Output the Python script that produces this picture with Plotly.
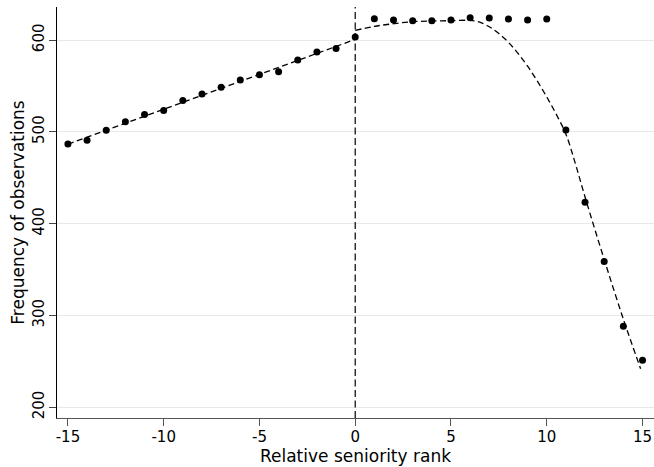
import plotly.graph_objects as go

# Observed frequency by relative seniority rank
rank = list(range(-15, 16))
freq = [486.9, 490.9, 501.8, 510.9, 518.8, 523.2, 534.1, 541.1, 548.7, 556.4,
        562.1, 565.4, 578.2, 586.9, 590.8, 603.3,
        623.2, 621.8, 621.1, 621.1, 621.8, 624.3, 624.0, 622.9, 621.8, 622.9,
        502.1, 423.3, 358.9, 288.3, 251.2]

# Fitted values, left of the cutoff (linear)
fit_left_x = [-15, 0]
fit_left_y = [486.5, 600.7]

# Fitted values, right of the cutoff
fit_right_x = [0, 1, 2, 3, 4, 5, 6, 6.5, 7, 7.5, 8, 8.5, 9, 9.5, 10, 10.5, 11, 11.5,
               12, 13, 14, 14.9]
fit_right_y = [610.5, 614.9, 617.8, 620.0, 620.7, 621.1, 621.4, 619.5, 614.5, 607.0,
               597.5, 585.5, 571.5, 555.5, 538.0, 519.0, 497.5, 465.0,
               429.0, 361.0, 296.0, 242.0]

cutoff = 0

x_ticks = [-15, -10, -5, 0, 5, 10, 15]
x_ticktext = ["-15", "-10", "-5", "0", "5", "10", "15"]
y_ticks = [200, 300, 400, 500, 600]

FONT = "DejaVu Sans"
DASH = "6px,3.5px"

fig = go.Figure()

fig.add_trace(go.Scatter(
    x=fit_left_x, y=fit_left_y, mode="lines",
    line=dict(color="black", width=1.3, dash=DASH), showlegend=False))
fig.add_trace(go.Scatter(
    x=fit_right_x, y=fit_right_y, mode="lines",
    line=dict(color="black", width=1.3, dash=DASH, shape="spline", smoothing=1.0),
    showlegend=False))
fig.add_trace(go.Scatter(
    x=rank, y=freq, mode="markers",
    marker=dict(color="black", size=7), showlegend=False, cliponaxis=False))

fig.add_shape(type="line", x0=cutoff, x1=cutoff, y0=0, y1=1,
              xref="x", yref="paper",
              line=dict(color="black", width=1.2, dash="7px,3.5px"))

fig.update_layout(
    width=654, height=467,
    margin=dict(l=57, r=0, t=7, b=49),
    paper_bgcolor="white", plot_bgcolor="white",
    font=dict(family=FONT, size=15, color="black"),
    xaxis=dict(
        range=[-15.57, 15.6], tickvals=x_ticks, ticktext=x_ticktext,
        showgrid=False, zeroline=False,
        showline=True, linecolor="#555", linewidth=1.3,
        ticks="outside", ticklen=7, tickcolor="#555", tickwidth=1.2,
        tickfont=dict(size=15), ticklabelstandoff=-2,
        title=dict(text="Relative seniority rank", font=dict(size=17), standoff=0),
    ),
    yaxis=dict(
        range=[188.3, 636], tickvals=y_ticks, tickangle=-90,
        showgrid=True, gridcolor="#e8e8e8", gridwidth=1, zeroline=False,
        showline=True, linecolor="black", linewidth=1.3,
        ticks="outside", ticklen=7, tickcolor="#444", tickwidth=1.2,
        tickfont=dict(size=15), ticklabelstandoff=-1,
        title=dict(text="Frequency of observations", font=dict(size=17), standoff=0),
    ),
)

fig.write_html("out.html")
